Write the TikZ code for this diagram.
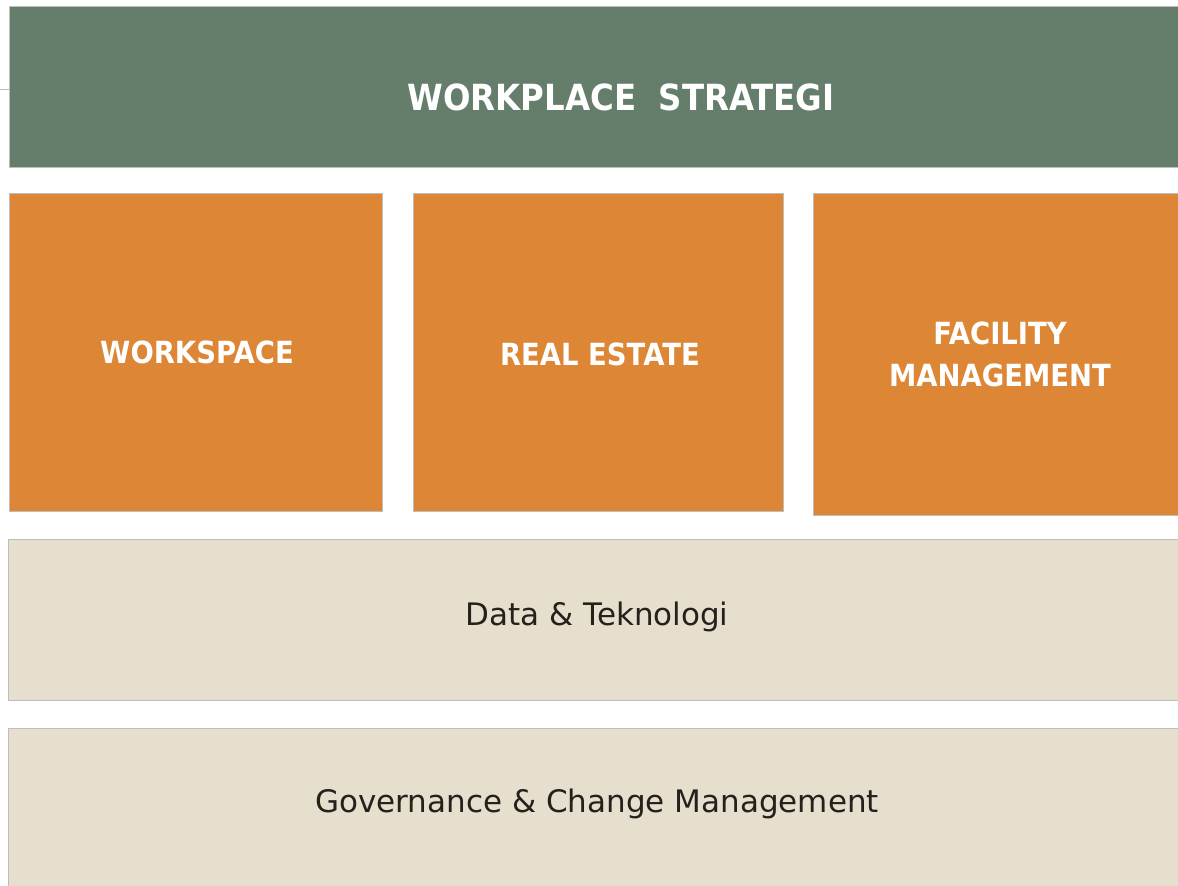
\documentclass[tikz,border=0pt]{standalone}
\usepackage{fontspec}
\setmainfont{DejaVu Sans}
\newfontfamily\capfont[FakeStretch=0.9]{DejaVu Sans}
\newfontfamily\lowfont{DejaVu Sans}
\definecolor{wsgreen}{HTML}{657D6B}
\definecolor{wsorange}{HTML}{DC8636}
\definecolor{wsbeige}{HTML}{E6DFCD}
\definecolor{wsdark}{HTML}{24201B}
\definecolor{wsedge}{HTML}{BDBDBD}
\begin{document}
\begin{tikzpicture}[x=1pt,y=-1pt,
  panel/.style={draw=wsedge,line width=0.8pt,anchor=north west,inner sep=0pt,outer sep=0pt},
  greenbox/.style={panel,fill=wsgreen},
  orangebox/.style={panel,fill=wsorange},
  beigebox/.style={panel,fill=wsbeige},
  wtext/.style={text=white,font=\capfont\bfseries\fontsize{36}{40}\selectfont,align=center,inner sep=0pt},
  otext/.style={text=white,font=\capfont\bfseries\fontsize{30.5}{42}\selectfont,align=center,inner sep=0pt},
  btext/.style={text=wsdark,font=\lowfont\fontsize{31}{40}\selectfont,inner sep=0pt}]
\useasboundingbox (0,0) rectangle (1178,886);
\fill[white] (0,0) rectangle (1178,886);
% boxes
\node[greenbox,minimum width=1175pt,minimum height=161pt] (top) at (9,6) {};
\node[orangebox,minimum width=373pt,minimum height=318pt] (ws) at (9,193) {};
\node[orangebox,minimum width=370pt,minimum height=318pt] (re) at (413,193) {};
\node[orangebox,minimum width=370pt,minimum height=322pt] (fm) at (813,193) {};
\node[beigebox,minimum width=1175pt,minimum height=161pt] (data) at (8,539) {};
\node[beigebox,minimum width=1175pt,minimum height=165pt] (gov) at (8,728) {};
% left stub line
\coordinate (stub) at (0,89);
\draw[wsedge,line width=0.8pt] (stub) -- (stub -| top.west);
% texts
\node[wtext] (ttop) at (621,97) {WORKPLACE\ \ STRATEGI};
\node[otext] (tws) at (197,352) {WORKSPACE};
\node[otext] (tre) at (600,354) {REAL ESTATE};
\node[otext] (tfm) at (1000,354) {FACILITY\\MANAGEMENT};
\node[btext] (tdata) at (597,617) {Data \& Teknologi};
\node[btext] (tgov) at (597,804) {Governance \& Change Management};
\end{tikzpicture}
\end{document}
